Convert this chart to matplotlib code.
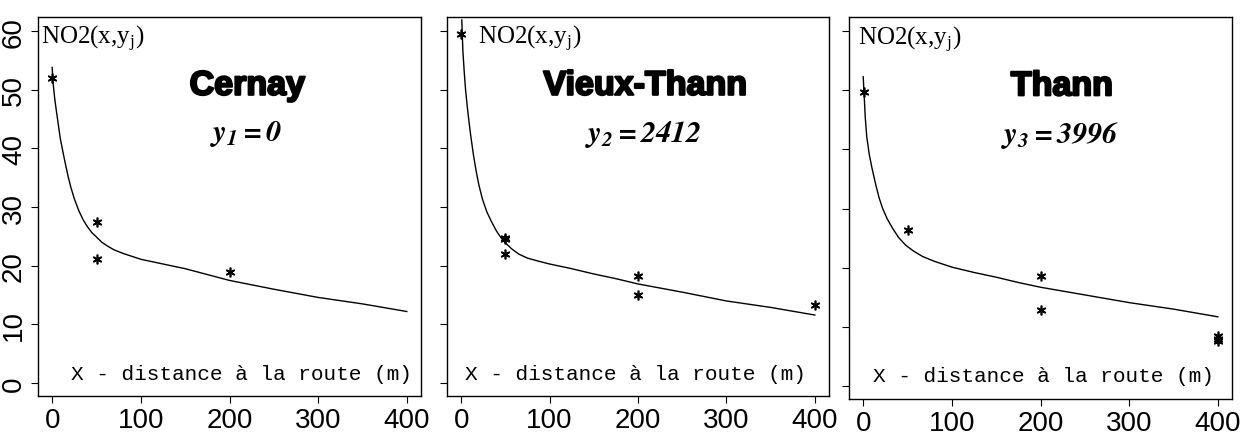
import matplotlib.pyplot as plt
from matplotlib import patheffects as pe

plt.rcParams['mathtext.fontset'] = 'stix'

sites = ['Cernay', 'Vieux-Thann', 'Thann']
y_labels = [r'$\mathbfit{y_1{=}0}$', r'$\mathbfit{y_2{=}2412}$', r'$\mathbfit{y_3{=}3996}$']

obs_x = [
    [0, 50, 50, 200],
    [0, 50, 50, 50, 200, 200, 400],
    [1, 50, 200, 200, 400, 400, 400],
]
obs_y = [
    [52.0, 27.4, 21.1, 18.9],
    [59.5, 24.8, 24.5, 22.0, 18.3, 15.0, 13.3],
    [49.7, 26.4, 18.6, 12.8, 8.5, 8.0, 7.6],
]

curve_x = [
    [0, 1, 3, 5, 7, 9, 12, 15, 18, 21, 25, 30, 35, 40, 45, 50, 56, 63, 70, 80, 90, 100,
     125, 150, 175, 200, 250, 300, 350, 400],
    [0.7, 2, 3.5, 5, 7, 9, 11, 14, 17, 20, 24, 29, 34, 40, 45, 50, 57, 65, 75, 87, 100,
     125, 150, 175, 200, 250, 300, 350, 400],
    [0, 1, 2.3, 4, 6.8, 10, 14.4, 18, 22, 27, 33, 40, 48, 57, 67, 80, 100,
     125, 150, 175, 200, 250, 300, 350, 400],
]
curve_y = [
    [53.8, 51.2, 48.3, 46.1, 44.0, 41.8, 39.5, 37.3, 35.2, 33.4, 31.4, 29.4, 27.8, 26.6, 25.6,
     24.9, 24.0, 23.3, 22.7, 22.1, 21.6, 21.1, 20.3, 19.5, 18.5, 17.5, 16.0, 14.6, 13.5, 12.2],
    [61.9, 56.5, 53.0, 50.0, 47.0, 44.4, 42.0, 38.8, 36.1, 33.8, 31.4, 29.2, 27.6, 25.9, 24.8,
     23.9, 22.9, 22.0, 21.3, 20.8, 20.3, 19.5, 18.6, 17.8, 16.9, 15.5, 14.0, 12.9, 11.6],
    [52.3, 49.5, 45.5, 42.2, 39.2, 36.8, 33.9, 31.8, 30.0, 28.3, 26.7, 25.1, 23.8, 22.8, 21.9,
     21.1, 20.1, 19.2, 18.4, 17.5, 16.7, 15.4, 14.1, 13.0, 11.7],
]

W, H = 1242, 435
boxes = [(38, 421, 18, 397), (447, 829, 18, 397), (849, 1232, 18, 400)]
no2_dx = [3, 31, 9]
title_x = [220, 208, 224]
xlab_x = [214, 197, 203]

fig = plt.figure(figsize=(W / 100, H / 100), dpi=100)

for i, (l, r, t, b) in enumerate(boxes):
    ax = fig.add_axes([l / W, (H - b) / H, (r - l) / W, (b - t) / H])
    ax.plot(curve_x[i], curve_y[i], color='black', lw=1.0)
    ax.plot(obs_x[i], obs_y[i], linestyle='none', marker=(6, 2, 0),
            ms=7, mec='black', mew=1.2)
    ax.set_xlim(-16, 416)
    ax.set_ylim(-2.2, 62.4)
    ax.set_xticks([0, 100, 200, 300, 400])
    ax.set_yticks([0, 10, 20, 30, 40, 50, 60])
    ax.tick_params(direction='out', length=5, width=0.8, labelsize=20, pad=3)
    for lab in ax.get_xticklabels() + ax.get_yticklabels():
        lab.set_family('Liberation Sans')
    if i == 0:
        ax.set_yticklabels([str(v) for v in ax.get_yticks().astype(int)],
                           rotation=90, va='center', family='Liberation Sans')
    else:
        ax.set_yticklabels([])
    for s in ax.spines.values():
        s.set_linewidth(1.0)

    ax.text(no2_dx[i] / (r - l), 0.985, r'NO2(x,y$_\mathregular{j}$)', transform=ax.transAxes,
            ha='left', va='top', family='Liberation Serif', fontsize=18)
    ax.text(title_x[i], 50.6, sites[i], ha='center', va='center',
            family='Liberation Sans', fontweight='bold', fontsize=24.5,
            path_effects=[pe.withStroke(linewidth=1.6, foreground='black')])
    ax.text(title_x[i] - 2, 42.6, y_labels[i], ha='center', va='center', fontsize=22)
    ax.text(xlab_x[i], 1.7, 'X - distance à la route (m)', ha='center', va='center',
            family='Liberation Mono', fontsize=15.2)

fig.savefig('out.png', dpi=100)
